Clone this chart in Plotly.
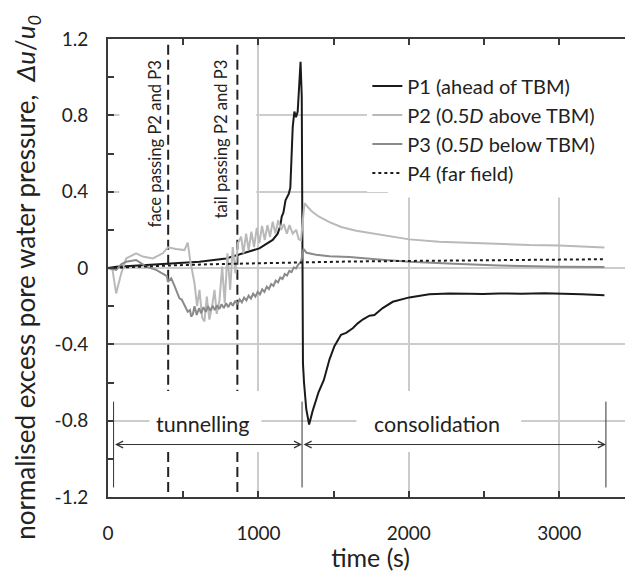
import plotly.graph_objects as go

# ---------------- data ----------------
t1 = [0, 54, 200, 387, 608, 785, 863, 962, 1006, 1040, 1095, 1128, 1145, 1155, 1166, 1180,
      1202, 1212, 1220, 1228, 1239, 1250, 1261, 1272, 1280, 1288, 1296, 1303, 1318, 1337,
      1360, 1400, 1435, 1472, 1505, 1549, 1583, 1627, 1660, 1693, 1738, 1771, 1826, 1893,
      1950, 2003, 2136, 2270, 2400, 2490, 2600, 2750, 2900, 3000, 3150, 3300]
p1 = [0, 0.007, 0.013, 0.021, 0.033, 0.05, 0.068, 0.094, 0.103, 0.12, 0.147, 0.18, 0.22,
      0.27, 0.29, 0.355, 0.39, 0.42, 0.55, 0.74, 0.82, 0.79, 0.82, 0.95, 1.08, 0.9, -0.5,
      -0.6, -0.74, -0.82, -0.75, -0.65, -0.587, -0.48, -0.41, -0.35, -0.34, -0.316, -0.29,
      -0.27, -0.25, -0.246, -0.21, -0.177, -0.165, -0.154, -0.138, -0.133, -0.135, -0.136,
      -0.133, -0.135, -0.132, -0.133, -0.138, -0.143]

t2 = [0, 30, 54, 88, 121, 187, 231, 298, 364, 398, 453, 508, 530, 546, 575, 592, 608, 626,
      641, 657, 674, 692, 708, 723, 741, 759, 776, 794, 812, 829, 847, 863, 885, 900, 918,
      935, 953, 971, 989, 1006, 1024, 1042, 1060, 1077, 1095, 1113, 1131, 1151, 1169, 1189,
      1206, 1228, 1251, 1268, 1283, 1306, 1350, 1400, 1472, 1550, 1650, 1800, 2003, 2200,
      2500, 2800, 3000, 3300]
p2 = [0, -0.01, -0.133, -0.028, 0.05, 0.077, 0.06, 0.05, 0.077, 0.108, 0.10, 0.094, 0.133,
      0.042, -0.08, -0.20, -0.115, -0.26, -0.28, -0.15, -0.27, -0.20, -0.115, -0.24, -0.17,
      0.007, -0.185, 0.077, -0.115, 0.11, -0.028, 0.13, 0.164, 0.077, 0.18, 0.094, 0.19,
      0.11, 0.21, 0.13, 0.22, 0.147, 0.225, 0.164, 0.243, 0.18, 0.25, 0.2, 0.23, 0.18, 0.225,
      0.18, 0.2, 0.15, 0.145, 0.34, 0.3, 0.27, 0.24, 0.215, 0.195, 0.175, 0.15, 0.138, 0.127,
      0.12, 0.118, 0.108]

t3 = [0, 30, 54, 90, 121, 187, 254, 320, 375, 392, 398, 410, 420, 440, 453, 465, 475, 490,
      497, 515, 530, 545, 553, 565, 575, 590, 605, 620, 635, 650, 665, 680, 695, 710, 725,
      740, 755, 770, 785, 800, 815, 830, 845, 860, 875, 890, 905, 920, 935, 950, 965, 980,
      995, 1010, 1025, 1040, 1055, 1070, 1085, 1100, 1115, 1130, 1145, 1160, 1175, 1190,
      1205, 1220, 1235, 1250, 1265, 1284, 1292, 1299, 1320, 1383, 1472, 1605, 1800, 2003,
      2300, 2600, 3000, 3300]
p3 = [0, -0.005, -0.01, 0.02, 0.033, 0.042, 0.007, -0.01, -0.037, -0.042, -0.072, -0.06,
      -0.054, -0.09, -0.115, -0.13, -0.159, -0.165, -0.176, -0.2, -0.229, -0.22, -0.255,
      -0.24, -0.2, -0.246, -0.211, -0.237, -0.205, -0.23, -0.2, -0.225, -0.198, -0.22,
      -0.196, -0.215, -0.19, -0.21, -0.185, -0.205, -0.18, -0.198, -0.172, -0.19, -0.165,
      -0.18, -0.155, -0.17, -0.145, -0.16, -0.135, -0.15, -0.125, -0.138, -0.112, -0.125,
      -0.098, -0.11, -0.084, -0.094, -0.066, -0.076, -0.05, -0.058, -0.032, -0.04, -0.015,
      -0.022, 0.003, -0.002, 0.018, 0.033, 0.06, 0.1, 0.08, 0.07, 0.062, 0.057, 0.045,
      0.033, 0.022, 0.013, 0.007, 0.005]

t4 = [0, 200, 400, 700, 1000, 1300, 1600, 2000, 2500, 3000, 3300]
p4 = [0, 0.007, 0.013, 0.02, 0.026, 0.031, 0.034, 0.037, 0.041, 0.044, 0.046]

names = ["P1 (ahead of TBM)", "P2 (0.5<i>D</i> above TBM)",
         "P3 (0.5<i>D</i> below TBM)", "P4 (far field)"]

face_t, tail_t = 400, 860          # dashed markers
start_t, switch_t, end_t = 37, 1290, 3310   # phase boundaries
phase_y = -0.925

x_ticks = [0, 1000, 2000, 3000]
y_ticks = [-1.2, -0.8, -0.4, 0, 0.4, 0.8, 1.2]
y_ticklabels = ["-1.2", "-0.8", "-0.4", "0", "0.4", "0.8", "1.2"]

FONT = "Lato"
AX = "#3a3a3a"
GRID = "#cccccc"

fig = go.Figure()
styles = [dict(color="#1a1a1a", width=2),
          dict(color="#b9b9b9", width=2),
          dict(color="#8a8a8a", width=2),
          dict(color="#1a1a1a", width=2, dash="3px,3px")]
for i, (tt, vv) in enumerate([(t1, p1), (t2, p2), (t3, p3), (t4, p4)]):
    fig.add_trace(go.Scatter(x=tt, y=vv, mode="lines", name=names[i], line=styles[i]))

shapes = []
def mask(x0, x1, y0, y1):
    shapes.append(dict(type="rect", xref="x", yref="y", x0=x0, x1=x1, y0=y0, y1=y1,
                       fillcolor="white", line=dict(width=0), layer="between"))
mask(76, 985, 0.21, 1.15)
mask(1860, 3490, 0.37, 1.2)
mask(276, 1020, -0.964, -0.645)
mask(1651, 2747, -0.964, -0.645)

for xt in (face_t, tail_t):
    for (ya, yb) in [(1.17, -0.645), (-0.964, -1.2)]:
        shapes.append(dict(type="line", xref="x", yref="y", x0=xt, x1=xt, y0=ya, y1=yb,
                           line=dict(color="#222", width=2, dash="10px,5px"), layer="between"))
for xt in (start_t, switch_t, end_t):
    shapes.append(dict(type="line", xref="x", yref="y", x0=xt, x1=xt, y0=-0.70, y1=-1.15,
                       line=dict(color="#333", width=1), layer="between"))

ann = []
tf = dict(family=FONT, size=16.6, color="#222")
ann.append(dict(x=309, y=0.65, xref="x", yref="y", text="face passing P2 and P3",
                textangle=-90, showarrow=False, font=tf))
ann.append(dict(x=754, y=0.676, xref="x", yref="y", text="tail passing P2 and P3",
                textangle=-90, showarrow=False, font=tf))
ann.append(dict(x=634, y=-0.82, xref="x", yref="y", text="tunnelling", showarrow=False,
                font=dict(family=FONT, size=21.5, color="#222")))
ann.append(dict(x=2190, y=-0.82, xref="x", yref="y", text="consolidation", showarrow=False,
                font=dict(family=FONT, size=21.5, color="#222")))
for (a, b) in [(start_t, switch_t), (switch_t, end_t)]:
    ann.append(dict(x=b, y=phase_y, ax=a, ay=phase_y, xref="x", yref="y", axref="x",
                    ayref="y", text="", showarrow=True, arrowhead=5, startarrowhead=5,
                    arrowside="end+start", arrowsize=1.3, startarrowsize=1.3,
                    arrowwidth=1, arrowcolor="#333", standoff=0, startstandoff=0))
# y-axis title (placed as a rotated annotation to match its offset along the axis)
ann.append(dict(x=-0.155, y=0.48, xref="paper", yref="paper", xanchor="center",
                yanchor="middle", textangle=-90, showarrow=False,
                text="normalised excess pore water pressure,  <i>Δu</i>/<i>u</i><sub><i>0</i></sub>",
                font=dict(family=FONT, size=26, color="#222")))

# page body has an 8px margin: figure is placed at (8, 8)
fig.update_layout(
    width=625, height=564,
    margin=dict(l=100, r=0, t=31, b=75),
    paper_bgcolor="white", plot_bgcolor="white",
    font=dict(family=FONT, size=19, color="#222"),
    shapes=shapes, annotations=ann,
    showlegend=True,
    legend=dict(x=0.494, y=0.94, xanchor="left", yanchor="top", bgcolor="white",
                font=dict(family=FONT, size=20, color="#222"), tracegroupgap=0),
    xaxis=dict(range=[0, 3490], tickvals=x_ticks, showgrid=True, gridcolor=GRID,
               gridwidth=1.5, zeroline=False, showline=True, linecolor=AX, linewidth=2,
               mirror="ticks", ticks="inside", ticklen=6, tickcolor=AX, tickwidth=1.5,
               minor=dict(dtick=500, ticks="inside", ticklen=6, tickcolor=AX,
                          tickwidth=1.5, showgrid=False),
               ticklabelstandoff=18,
               title=dict(text="time (s)", font=dict(family=FONT, size=25), standoff=2)),
    yaxis=dict(range=[-1.2, 1.2], tickvals=y_ticks, ticktext=y_ticklabels, showgrid=True,
               gridcolor=GRID, gridwidth=1.5, zeroline=False, showline=True, linecolor=AX,
               linewidth=2, ticks="inside", ticklen=6, tickcolor=AX, tickwidth=1.5,
               minor=dict(dtick=0.2, ticks="inside", ticklen=6, tickcolor=AX,
                          tickwidth=1.5, showgrid=False),
               ticklabelstandoff=14),
    yaxis2=dict(range=[-1.2, 1.2], overlaying="y", side="right", anchor="x",
                showgrid=False, zeroline=False, showline=False, showticklabels=False,
                tickvals=y_ticks, ticks="inside", ticklen=6, tickcolor=AX, tickwidth=1.5,
                minor=dict(dtick=0.2, ticks="inside", ticklen=6, tickcolor=AX,
                           tickwidth=1.5)),
)
fig.write_html("out.html")
